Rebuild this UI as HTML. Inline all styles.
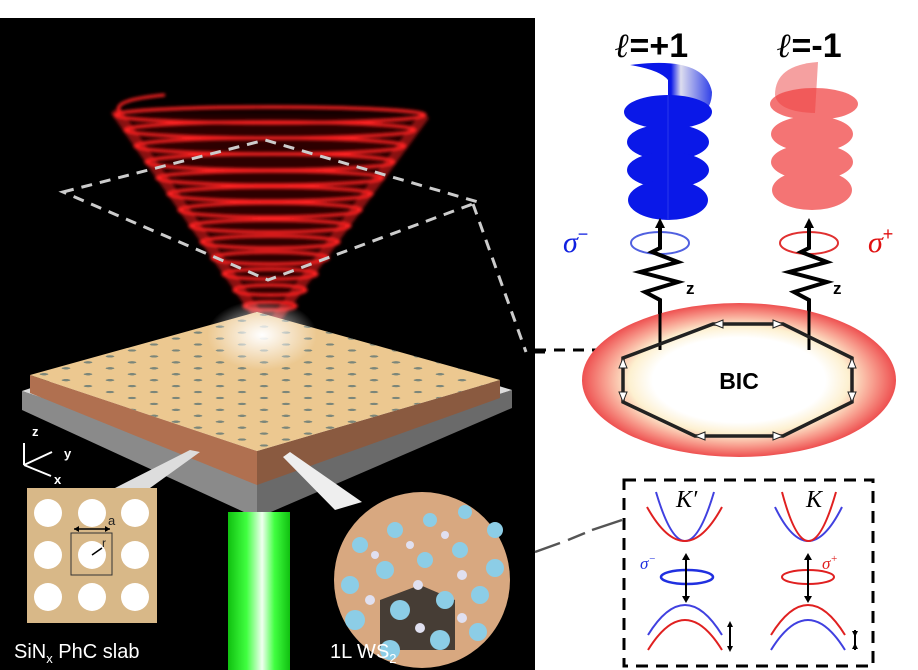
<!DOCTYPE html>
<html><head><meta charset="utf-8"><style>
html,body{margin:0;padding:0;background:#fff;}
svg{display:block;font-family:"Liberation Sans",sans-serif;}
</style></head><body>
<svg width="918" height="670" viewBox="0 0 918 670" xmlns="http://www.w3.org/2000/svg">
<defs>
<filter id="glow" x="-20%" y="-20%" width="140%" height="140%"><feGaussianBlur stdDeviation="1.6"/></filter>
<filter id="blur6" x="-20%" y="-20%" width="140%" height="140%"><feGaussianBlur stdDeviation="6"/></filter>
<radialGradient id="bicg" cx="50%" cy="50%" r="50%">
<stop offset="0.55" stop-color="#fff"/><stop offset="0.7" stop-color="#fdf0d0"/><stop offset="0.85" stop-color="#f8a090"/><stop offset="1" stop-color="#ee5050"/>
</radialGradient>
<linearGradient id="green" x1="0" x2="1"><stop offset="0" stop-color="#10c010"/><stop offset="0.3" stop-color="#40ff40"/><stop offset="0.55" stop-color="#f0fff0"/><stop offset="0.75" stop-color="#40ff40"/><stop offset="1" stop-color="#10c010"/></linearGradient>
<linearGradient id="bfade" x1="0" x2="1"><stop offset="0" stop-color="#0a18e8"/><stop offset="0.5" stop-color="#0a18e8"/><stop offset="0.62" stop-color="#dde"/><stop offset="1" stop-color="#3040e8"/></linearGradient>
<linearGradient id="rfade" x1="0" x2="1"><stop offset="0" stop-color="#f49090"/><stop offset="0.9" stop-color="#f06060"/><stop offset="1" stop-color="#fff"/></linearGradient>
<radialGradient id="spot" cx="50%" cy="50%" r="50%"><stop offset="0" stop-color="#fff" stop-opacity="1"/><stop offset="1" stop-color="#fff" stop-opacity="0"/></radialGradient>
<pattern id="dots" width="22" height="22" patternUnits="userSpaceOnUse" patternTransform="matrix(1,-0.27,1,0.27,0,0)"><circle cx="11" cy="11" r="3" fill="#4a6a70"/></pattern>
</defs>
<rect x="0" y="18" width="535" height="652" fill="#000"/>
<!-- cone -->
<path d="M118,112 L268,330 L422,115 Z" fill="#c00" opacity="0.22" filter="url(#blur6)"/>
<g filter="url(#glow)" fill="none" stroke="#ff2020" stroke-width="3.2">
<path d="M115,110 L268,330 L425,115" stroke-width="10" stroke-opacity="0.5"/>
<path d="M165,95 Q110,100 120,112" stroke-width="3"/>
<ellipse cx="270" cy="115" rx="155" ry="8"/>
<ellipse cx="270" cy="130" rx="145" ry="8"/>
<ellipse cx="270" cy="146" rx="135" ry="8"/>
<ellipse cx="270" cy="162" rx="124" ry="8"/>
<ellipse cx="270" cy="178" rx="113" ry="7"/>
<ellipse cx="270" cy="194" rx="102" ry="7"/>
<ellipse cx="270" cy="210" rx="91" ry="7"/>
<ellipse cx="270" cy="226" rx="80" ry="6"/>
<ellipse cx="270" cy="242" rx="69" ry="6"/>
<ellipse cx="270" cy="258" rx="58" ry="6"/>
<ellipse cx="270" cy="274" rx="47" ry="5"/>
<ellipse cx="270" cy="290" rx="36" ry="5"/>
<ellipse cx="270" cy="306" rx="26" ry="4"/>
</g>
<!-- dashed diamond -->
<path d="M63,192 L265,140 L478,202 L268,280 Z M473,204 L526,352" fill="none" stroke="#ccc" stroke-width="3" stroke-dasharray="11,8"/>
<path d="M535,350 L597,350" stroke="#000" stroke-width="3" stroke-dasharray="11,8"/>
<path d="M535,352 L545,352" stroke="#000" stroke-width="3"/>
<!-- slab -->
<polygon points="22,391 257,471 257,518 22,410" fill="#8a8a8a"/>
<polygon points="257,471 512,390 512,408 257,518" fill="#6a6a6a"/>
<polygon points="22,391 257,471 512,390 257,312" fill="#ddd"/>
<polygon points="30,375 257,451 257,485 30,393" fill="#b07050"/>
<polygon points="257,451 500,380 500,398 257,485" fill="#8a5a40"/>
<polygon points="30,375 257,312 500,380 257,451" fill="#ecc890"/>
<polygon points="30,375 257,312 500,380 257,451" fill="url(#dots)" opacity="0.7"/>
<ellipse cx="262" cy="335" rx="55" ry="35" fill="url(#spot)"/>
<!-- green beam -->
<rect x="228" y="512" width="62" height="158" fill="url(#green)"/>
<!-- axes -->
<g stroke="#fff" stroke-width="2" fill="#fff">
<path d="M24,465 L24,443" /><path d="M24,465 L52,452"/><path d="M24,465 L51,476"/>
</g>
<text x="32" y="436" fill="#fff" font-size="13" font-weight="bold">z</text>
<text x="64" y="458" fill="#fff" font-size="13" font-weight="bold">y</text>
<text x="54" y="484" fill="#fff" font-size="13" font-weight="bold">x</text>
<!-- inset callouts -->
<polygon points="115,488 190,450 200,452 150,488" fill="#ddd"/>
<polygon points="283,457 335,510 362,502 290,452" fill="#eee"/>
<!-- PhC inset -->
<rect x="27" y="488" width="130" height="135" fill="#d8b888"/>
<g fill="#fff">
<circle cx="48" cy="513" r="14"/><circle cx="92" cy="513" r="14"/><circle cx="135" cy="513" r="14"/>
<circle cx="48" cy="555" r="14"/><circle cx="92" cy="555" r="14"/><circle cx="135" cy="555" r="14"/>
<circle cx="48" cy="597" r="14"/><circle cx="92" cy="597" r="14"/><circle cx="135" cy="597" r="14"/>
</g>
<rect x="71" y="533" width="41" height="42" fill="none" stroke="#333" stroke-width="1"/>
<path d="M74,529 L110,529" stroke="#000" stroke-width="1.5"/>
<path d="M74,529 l5,-3 v6z M110,529 l-5,-3 v6z" fill="#000"/>
<path d="M92,555 L102,548" stroke="#000" stroke-width="1.5"/>
<text x="108" y="525" font-size="13" fill="#222">a</text>
<text x="102" y="547" font-size="12" fill="#222">r</text>
<text x="14" y="658" fill="#fff" font-size="20">SiN<tspan font-size="13" dy="5">x</tspan><tspan dy="-5"> PhC slab</tspan></text>
<!-- WS2 inset -->
<circle cx="422" cy="580" r="88" fill="#d8a880"/>
<g fill="#222" opacity="0.8"><path d="M380,600 l40,-15 l35,15 l0,50 l-75,0z"/></g>
<g fill="#8ccde6">
<circle cx="360" cy="545" r="8"/><circle cx="395" cy="530" r="8"/><circle cx="430" cy="520" r="7"/><circle cx="465" cy="512" r="7"/><circle cx="495" cy="530" r="8"/>
<circle cx="350" cy="585" r="9"/><circle cx="385" cy="570" r="9"/><circle cx="425" cy="560" r="8"/><circle cx="460" cy="550" r="8"/><circle cx="495" cy="568" r="9"/>
<circle cx="355" cy="620" r="10"/><circle cx="400" cy="610" r="10"/><circle cx="445" cy="600" r="9"/><circle cx="480" cy="595" r="9"/>
<circle cx="390" cy="650" r="10"/><circle cx="440" cy="640" r="10"/><circle cx="478" cy="632" r="9"/>
</g>
<g fill="#e0e0f0">
<circle cx="375" cy="555" r="4"/><circle cx="410" cy="545" r="4"/><circle cx="445" cy="535" r="4"/><circle cx="370" cy="600" r="5"/><circle cx="418" cy="585" r="5"/><circle cx="462" cy="575" r="5"/><circle cx="420" cy="628" r="5"/><circle cx="462" cy="618" r="5"/>
</g>
<text x="330" y="658" fill="#fff" font-size="20">1L WS<tspan font-size="13" dy="5">2</tspan></text>
<path d="M535,552 L560,543 M568,540 L585,533 M592,530 L622,520" stroke="#555" stroke-width="2.5"/>
<!-- helices -->
<path d="M630,65 Q705,55 712,92 Q712,122 668,125 L668,80 Q660,70 630,65z" fill="url(#bfade)"/>
<g fill="#0a18e8">
<ellipse cx="668" cy="112" rx="44" ry="17"/>
<ellipse cx="668" cy="142" rx="41" ry="18"/>
<ellipse cx="668" cy="170" rx="41" ry="18"/>
<ellipse cx="668" cy="200" rx="40" ry="20"/>
</g>
<path d="M668,95 L668,220" stroke="#4050f0" stroke-width="1" opacity="0.6"/>
<path d="M818,62 Q775,65 775,95 Q778,112 815,113z" fill="#f5a0a0"/>
<g fill="#f04040" opacity="0.72">
<ellipse cx="814" cy="104" rx="44" ry="16"/>
<ellipse cx="812" cy="134" rx="41" ry="18"/>
<ellipse cx="812" cy="162" rx="41" ry="18"/>
<ellipse cx="812" cy="190" rx="40" ry="20"/>
</g>
<text x="615" y="57" font-size="34" font-weight="bold" fill="#000"><tspan font-family="Liberation Serif,serif" font-style="italic">ℓ</tspan>=+1</text>
<text x="777" y="57" font-size="34" font-weight="bold" fill="#000"><tspan font-family="Liberation Serif,serif" font-style="italic">ℓ</tspan>=-1</text>
<!-- polarization ellipses -->
<ellipse cx="660" cy="243" rx="29" ry="11" fill="none" stroke="#5060e0" stroke-width="2"/>
<ellipse cx="809" cy="243" rx="29" ry="11" fill="none" stroke="#e03030" stroke-width="2"/>
<text x="563" y="252" font-size="30" fill="#1020e0" font-family="Liberation Serif,serif" font-style="italic">σ<tspan font-size="18" dy="-12" font-style="normal" font-family="Liberation Sans,sans-serif">−</tspan></text>
<text x="868" y="252" font-size="30" fill="#e01010" font-family="Liberation Serif,serif" font-style="italic">σ<tspan font-size="18" dy="-12" font-style="normal" font-family="Liberation Sans,sans-serif">+</tspan></text>
<!-- springs -->
<g fill="none" stroke="#000" stroke-linejoin="miter">
<path d="M660,350 L660,300 L645,292 L678,282 L640,272 L678,262 L652,252 L660,248 L660,228" stroke-width="4"/>
<path d="M809,350 L809,300 L794,292 L827,282 L789,272 L827,262 L801,252 L809,248 L809,228" stroke-width="4"/>
</g>
<path d="M660,218 l-5,10 h10z M809,218 l-5,10 h10z" fill="#000"/>
<text x="686" y="294" font-size="17" font-weight="bold">z</text>
<text x="833" y="294" font-size="17" font-weight="bold">z</text>
<!-- BIC -->
<ellipse cx="739" cy="380" rx="157" ry="77" fill="url(#bicg)"/>
<path d="M660,300 L660,350 M809,300 L809,350" stroke="#000" stroke-width="3"/>
<polygon points="713,324 783,324 852,358 852,402 783,436 695,436 623,402 623,358" fill="none" stroke="#222" stroke-width="3.5"/>
<g fill="#fff" stroke="#222" stroke-width="1">
<path d="M713,324 l10,-4 v8z"/><path d="M783,324 l-10,-4 v8z"/><path d="M623,358 l-4,10 h8z"/><path d="M623,402 l-4,-10 h8z"/><path d="M852,358 l-4,10 h8z"/><path d="M852,402 l-4,-10 h8z"/><path d="M695,436 l10,-4 v8z"/><path d="M783,436 l-10,-4 v8z"/>
</g>
<text x="739" y="389" font-size="23" font-weight="bold" text-anchor="middle">BIC</text>
<!-- band box -->
<rect x="624" y="480" width="249" height="186" fill="none" stroke="#000" stroke-width="3" stroke-dasharray="12,8"/>
<text x="676" y="507" font-size="24" font-family="Liberation Serif,serif" font-style="italic">K′</text>
<text x="806" y="507" font-size="24" font-family="Liberation Serif,serif" font-style="italic">K</text>
<g fill="none" stroke-width="2">
<path d="M656,492 Q685,590 714,492" stroke="#4040e0"/>
<path d="M647,507 Q685,575 722,507" stroke="#e02020"/>
<path d="M775,507 Q808,575 842,507" stroke="#4040e0"/>
<path d="M782,492 Q808,590 836,492" stroke="#e02020"/>
<path d="M648,635 Q685,575 722,635" stroke="#4040e0"/>
<path d="M648,650 Q685,590 722,650" stroke="#e02020"/>
<path d="M771,635 Q808,575 845,635" stroke="#e02020"/>
<path d="M771,650 Q808,590 845,650" stroke="#4040e0"/>
<ellipse cx="687" cy="577" rx="26" ry="7" stroke="#2030e0" stroke-width="2.5"/>
<ellipse cx="808" cy="577" rx="26" ry="7" stroke="#e02020" stroke-width="2"/>
</g>
<path d="M686,555 V600 M808,555 V600 M730,623 V650 M855,630 V650" stroke="#000" stroke-width="2"/>
<path d="M686,553 l-4,7 h8z M686,603 l-4,-7 h8z M808,553 l-4,7 h8z M808,603 l-4,-7 h8z" fill="#000"/>
<path d="M730,621 l-3,6 h6z M730,652 l-3,-6 h6z M855,637 l-3,-6 h6z M855,643 l-3,6 h6z" fill="#000"/>
<text x="640" y="569" font-size="17" fill="#2030e0" font-family="Liberation Serif,serif" font-style="italic">σ<tspan font-size="11" dy="-7">−</tspan></text>
<text x="822" y="569" font-size="17" fill="#e02020" font-family="Liberation Serif,serif" font-style="italic">σ<tspan font-size="11" dy="-7">+</tspan></text>
</svg>
</body></html>
